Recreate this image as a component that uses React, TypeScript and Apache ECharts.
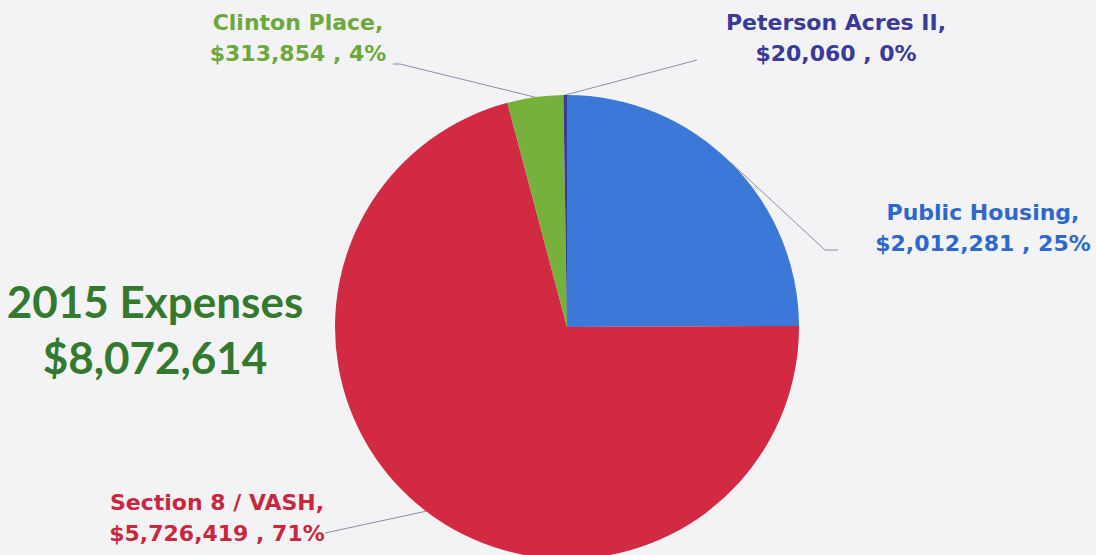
import React, { useEffect, useRef } from "react";
import * as echarts from "echarts";

const categories = ["Public Housing", "Section 8 / VASH", "Clinton Place", "Peterson Acres II"];
const values = [2012281, 5726419, 313854, 20060];
const sliceColors = ["#3b78d8", "#d22a42", "#76b13c", "#3b3b9a"];
const labelColors = ["#2f68cc", "#c8283e", "#6ea83c", "#3a3a98"];
const titleText = "2015 Expenses\n$8,072,614";

// label anchor positions (x, y of text block centre) and line bends
const labelPlace = [
  { x: 983, y: 228, bend: [[825, 250], [838, 250]] },
  { x: 217, y: 518, bend: [[325, 533], [325, 533]] },
  { x: 298, y: 38, bend: [[400, 64], [393, 64]] },
  { x: 836, y: 38, bend: [[697, 60], [697, 60]] },
];

export default function App() {
  const ref = useRef<HTMLDivElement>(null);
  useEffect(() => {
    const chart = echarts.init(ref.current!, null, { renderer: "svg" });
    chart.setOption({
      animation: false,
      backgroundColor: "#f3f3f6",
      title: {
        text: titleText,
        left: 150,
        top: 268,
        textAlign: "center",
        textStyle: {
          fontFamily: "Lato",
          fontWeight: "bold",
          fontSize: 44,
          lineHeight: 56,
          color: "#337a2e",
        },
      },
      series: [
        {
          type: "pie",
          center: [567, 327],
          radius: 232,
          startAngle: 90,
          clockwise: true,
          percentPrecision: 0,
          avoidLabelOverlap: false,
          data: categories.map((c, i) => ({
            name: c,
            value: values[i],
            itemStyle: { color: sliceColors[i] },
            label: { color: labelColors[i] },
          })),
          label: {
            show: true,
            position: "outside",
            fontFamily: "DejaVu Sans",
            fontWeight: "bold",
            fontSize: 22,
            lineHeight: 31,
            align: "center",
            formatter: (p: any) =>
              `${p.name},\n$${Number(p.value).toLocaleString("en-US")} , ${p.percent}%`,
          },
          labelLine: {
            show: true,
            lineStyle: { color: "#8a8fa3", width: 1 },
          },
          labelLayout: (p: any) => {
            const lp = labelPlace[p.dataIndex];
            const start = p.labelLinePoints ? p.labelLinePoints[0] : lp.bend[0];
            return {
              x: lp.x,
              y: lp.y,
              align: "center",
              verticalAlign: "middle",
              labelLinePoints: [start, lp.bend[0], lp.bend[1]],
            };
          },
        },
      ],
    });
    return () => chart.dispose();
  }, []);
  return (
    <div
      ref={ref}
      style={{ position: "fixed", left: 0, top: 0, width: 1096, height: 555 }}
    />
  );
}
